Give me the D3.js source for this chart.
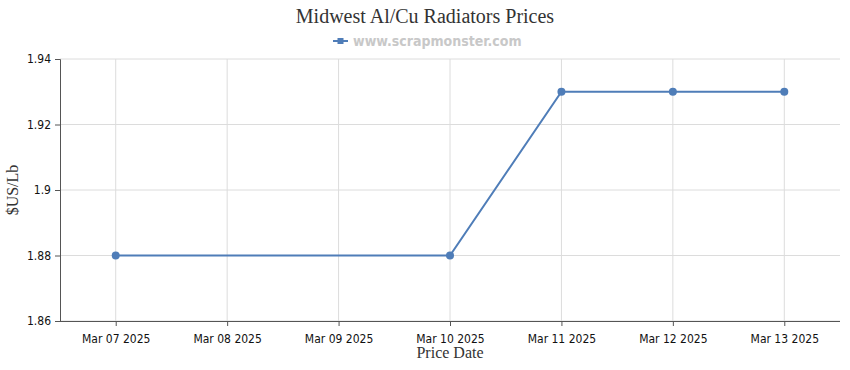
<!DOCTYPE html>
<html>
<head>
<meta charset="utf-8">
<script src="https://cdn.jsdelivr.net/npm/d3@7"></script>
<style>
  body { margin: 0; background: #fff; }
  .tick text { font-family: Tahoma, "DejaVu Sans Condensed", "DejaVu Sans", sans-serif; font-size: 12px; fill: #111; }
</style>
</head>
<body>
<script>
var dates = ["Mar 07 2025", "Mar 08 2025", "Mar 09 2025", "Mar 10 2025", "Mar 11 2025", "Mar 12 2025", "Mar 13 2025"];
var priceDates = ["Mar 07 2025", "Mar 10 2025", "Mar 11 2025", "Mar 12 2025", "Mar 13 2025"];
var prices = [1.88, 1.88, 1.93, 1.93, 1.93];
var yTicks = [1.86, 1.88, 1.9, 1.92, 1.94];

window.addEventListener('load', function () {
  var width = 850, height = 370;
  var margin = {top: 59, right: 10, bottom: 49, left: 60};
  var lineColor = "#4f7db8";

  var svg = d3.select('body').append('svg')
    .attr("width", width)
    .attr("height", height);

  var x = d3.scalePoint()
    .domain(dates)
    .range([margin.left, width - margin.right])
    .padding(0.5);

  var y = d3.scaleLinear()
    .domain([1.86, 1.94])
    .range([height - margin.bottom, margin.top]);

  // grid
  svg.append('g').selectAll('line.h')
    .data(yTicks).enter().append('line')
    .attr('x1', margin.left).attr('x2', width - margin.right)
    .attr('y1', function(d){ return y(d); }).attr('y2', function(d){ return y(d); })
    .attr('stroke', '#dcdcdc');
  svg.append('g').selectAll('line.v')
    .data(dates).enter().append('line')
    .attr('x1', function(d){ return x(d); }).attr('x2', function(d){ return x(d); })
    .attr('y1', margin.top).attr('y2', height - margin.bottom)
    .attr('stroke', '#dcdcdc');

  var xAxis = svg.append('g')
    .attr('transform', 'translate(0,' + (height - margin.bottom) + ')')
    .call(d3.axisBottom(x).tickSizeOuter(0).tickSize(5).tickPadding(8));
  xAxis.select('.domain').attr('stroke', '#555').attr('d', 'M' + margin.left + ',0.5H' + (width - margin.right));
  xAxis.selectAll('.tick line').attr('stroke', '#555');

  var yAxis = svg.append('g')
    .attr('transform', 'translate(' + margin.left + ',0)')
    .call(d3.axisLeft(y).tickValues(yTicks).tickFormat(function(d){ return String(d); }).tickSizeOuter(0).tickSize(5).tickPadding(4));
  yAxis.select('.domain').attr('stroke', '#555');
  yAxis.selectAll('.tick line').attr('stroke', '#555');

  var line = d3.line()
    .x(function(d, i){ return x(priceDates[i]); })
    .y(function(d){ return y(d); });

  svg.append('path')
    .datum(prices)
    .attr('d', line)
    .attr('fill', 'none')
    .attr('stroke', lineColor)
    .attr('stroke-width', 2);

  svg.append('g').selectAll('circle')
    .data(prices).enter().append('circle')
    .attr('cx', function(d, i){ return x(priceDates[i]); })
    .attr('cy', function(d){ return y(d); })
    .attr('r', 4)
    .attr('fill', lineColor);

  // title
  svg.append('text')
    .attr('x', width / 2).attr('y', 23)
    .attr('text-anchor', 'middle')
    .style('font-family', 'Georgia, "Liberation Serif", serif')
    .style('font-size', '20px')
    .style('fill', '#333')
    .text('Midwest Al/Cu Radiators Prices');

  // legend
  var lg = svg.append('g').attr('transform', 'translate(333,41)');
  lg.append('line').attr('x1', 0).attr('x2', 15).attr('y1', 0).attr('y2', 0)
    .attr('stroke', lineColor).attr('stroke-width', 2);
  lg.append('rect').attr('x', 4.5).attr('y', -3).attr('width', 6).attr('height', 6).attr('fill', lineColor);
  lg.append('text').attr('x', 20).attr('y', 5)
    .style('font-family', 'Tahoma, "DejaVu Sans Condensed", "DejaVu Sans", sans-serif')
    .style('font-size', '14px').style('font-weight', 'bold')
    .style('fill', '#c8c8c8')
    .text('www.scrapmonster.com');

  // axis titles
  svg.append('text')
    .attr('x', (margin.left + width - margin.right) / 2).attr('y', 358)
    .attr('text-anchor', 'middle')
    .style('font-family', 'Georgia, "Liberation Serif", serif')
    .style('font-size', '16px').style('fill', '#333')
    .text('Price Date');

  svg.append('text')
    .attr('transform', 'translate(18,' + ((margin.top + height - margin.bottom) / 2) + ') rotate(-90)')
    .attr('text-anchor', 'middle')
    .style('font-family', 'Georgia, "Liberation Serif", serif')
    .style('font-size', '16px').style('fill', '#333')
    .text('$US/Lb');
});
</script>
</body>
</html>
